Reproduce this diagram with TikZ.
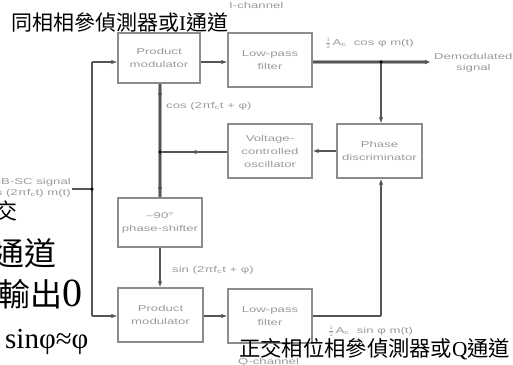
\documentclass[tikz,border=0pt]{standalone}
\usepackage{fontspec}
\setmainfont{Liberation Serif}
\newfontfamily\cjk{Noto Sans CJK TC}
\newfontfamily\diafont[FakeStretch=1.55]{Liberation Sans}
\usetikzlibrary{arrows.meta,decorations.markings}
\definecolor{boxgray}{HTML}{8C8C8C}
\definecolor{txtgray}{HTML}{9A9A9A}
\definecolor{lngray}{HTML}{555555}
\definecolor{thickgray}{HTML}{AAAAAA}
\begin{document}
\begin{tikzpicture}[x=1pt,y=-1pt,
  blk/.style={draw=boxgray, line width=1.4pt, align=center, inner sep=0pt,
    text=txtgray, font=\diafont\fontsize{8.5}{13}\selectfont},
  conn/.style={draw=lngray, line width=1.1pt},
  tip/.style={-{Latex[length=6pt,width=4.5pt]}},
  lbl/.style={text=txtgray, inner sep=0pt, font=\diafont\fontsize{8.5}{11}\selectfont},
  dot/.style={circle, fill=black, inner sep=0pt, minimum size=3.5pt},
  cjktxt/.style={inner sep=0pt, text=black},
  midarrow/.style={postaction={decorate}, decoration={markings,
    mark=at position #1 with {\arrow{Latex[length=6pt,width=4.5pt]}}}}
]
\useasboundingbox (0,0) rectangle (513,364);

% blocks
\node[blk, minimum width=82pt, minimum height=50pt] (pm1) at (159,58) {Product\\modulator};
\node[blk, minimum width=84pt, minimum height=54pt] (lpf1) at (270,60) {Low-pass\\filter};
\node[blk, minimum width=84pt, minimum height=54pt] (vco) at (270,151) {Voltage-\\controlled\\oscillator};
\node[blk, minimum width=85pt, minimum height=54pt] (pd) at (379.5,151) {Phase\\discriminator};
\node[blk, minimum width=84pt, minimum height=49pt] (ps) at (160,222.5) {–90°\\phase-shifter};
\node[blk, minimum width=85pt, minimum height=54pt] (pm2) at (160.5,315) {Product\\modulator};
\node[blk, minimum width=84pt, minimum height=54pt] (lpf2) at (270,316) {Low-pass\\filter};

% junction coordinates
\coordinate (inL) at (72,189);
\coordinate (j1) at (92,189);
\coordinate (jt) at (92,62);
\coordinate (jb) at (92,316);
\coordinate (jo) at (381,62);
\coordinate (outp) at (431,62);
\coordinate (jv) at (160,152);
\coordinate (jq) at (381,316);

% input and split
\draw[conn] (inL) -- (j1);
\draw[conn] (jt) -- (jb);
\draw[conn,tip] (jt) -- (jt -| pm1.west);
\draw[conn,tip] (jb) -- (jb -| pm2.west);

% I branch
\draw[conn,tip] (pm1.east |- jt) -- (lpf1.west |- jt);
\draw[draw=thickgray, line width=3.5pt] (lpf1.east |- jt) -- ([xshift=-4pt]outp);
\draw[conn,tip] (lpf1.east |- jt) -- (outp);
\draw[conn,tip] (jo) -- (jo |- pd.north);

% loop
\draw[conn,tip] (pd.west) -- (vco.east);
\draw[conn,midarrow=0.55] (vco.west |- jv) -- (jv);
\draw[draw=thickgray, line width=4.5pt] (jv |- pm1.south) -- (jv |- ps.north);
\draw[conn] (jv |- pm1.south) -- (jv |- ps.north);
\draw[conn,tip] (jv) -- ([yshift=-5pt]jv |- pm1.south);
\draw[conn,tip] (jv) -- ([yshift=4pt]jv |- ps.north);
\draw[conn,tip] (ps.south -| jv) -- (jv |- pm2.north);

% Q branch
\draw[conn,tip] (pm2.east |- jb) -- (lpf2.west |- jb);
\draw[conn] (lpf2.east |- jq) -- (jq);
\draw[conn,tip] (jq) -- (jq |- pd.south);

% dots
\node[dot] (d1) at (j1) {};
\node[dot] (d2) at (jo) {};
\node[dot] (d3) at (jv) {};

% labels
\node[lbl, anchor=west] (ich) at (229,5) {I-channel};
\node[lbl, anchor=west] (lblI) at (325,43) {$\frac{1}{2}$\,A\textsubscript{c}\ \ cos φ m(t)};
\node[lbl, anchor=west, align=center] (demod) at (434,63) {Demodulated\\signal};
\node[lbl, anchor=west] (lcos) at (166,106) {cos (2πf\textsubscript{c}t + φ)};
\node[lbl, anchor=east, align=right] (dsb) at (71,188) {DSB-SC signal\\A\textsubscript{c} cos (2πf\textsubscript{c}t) m(t)};
\node[lbl, anchor=west] (lsin) at (172,270) {sin (2πf\textsubscript{c}t + φ)};
\node[lbl, anchor=west] (lblQ) at (328,331) {$\frac{1}{2}$\,A\textsubscript{c}\ \ sin φ m(t)};
\node[lbl, anchor=west] (qch) at (238,362) {Q-channel};

% overlaid Chinese annotations
\node[cjktxt, anchor=west] (tI) at (11,22) {\fontsize{21}{23}\selectfont\cjk 同相相參偵測器或\rmfamily I\cjk 通道};
\node[cjktxt, anchor=west] (tQ) at (239,349) {\fontsize{21.3}{23}\selectfont\cjk 正交相位相參偵測器或\rmfamily Q\cjk 通道};
\node[cjktxt, anchor=east] (t1) at (18,211) {\fontsize{22}{24}\selectfont\cjk 交};
\node[cjktxt, anchor=east] (t2) at (57,253) {\fontsize{32}{34}\selectfont\cjk 通道};
\node[cjktxt, anchor=base east] (t3) at (83,306) {\fontsize{32}{34}\selectfont\cjk 輸出\fontsize{40}{42}\selectfont\rmfamily 0};
\node[cjktxt, anchor=base west] (t4) at (5,348) {\fontsize{29}{31}\selectfont sinφ≈φ};
\end{tikzpicture}
\end{document}
